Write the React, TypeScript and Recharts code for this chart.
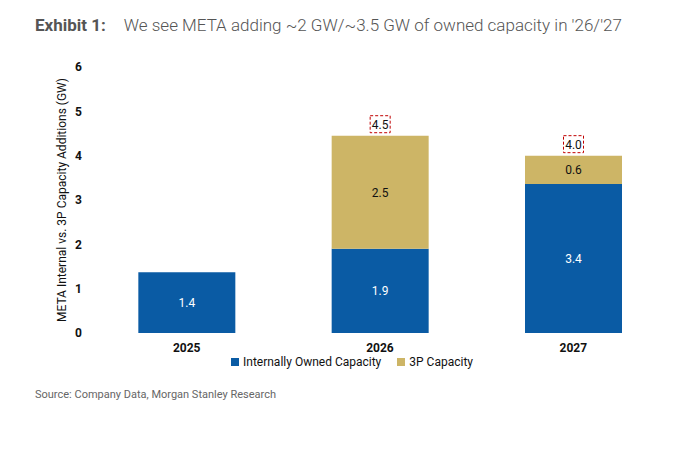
import { BarChart, Bar, XAxis, YAxis, LabelList } from "recharts"

const years = ["2025", "2026", "2027"]
const internal = [1.37, 1.9, 3.36]
const thirdParty = [0, 2.55, 0.64]
const internalLabels = ["1.4", "1.9", "3.4"]
const thirdLabels = ["", "2.5", "0.6"]
const totalLabels = ["1.4", "4.5", "4.0"]
const yTicks = [0, 1, 2, 3, 4, 5, 6]

const BLUE = "#0A5BA4"
const GOLD = "#CDB566"
const FONT = "'Liberation Sans Narrow', Roboto, sans-serif"

const data = years.map((y, i) => ({ year: y, internal: internal[i], third: thirdParty[i] }))

// eslint-disable-next-line @typescript-eslint/no-explicit-any
const TotalLabel = (props: any) => {
  const { x, y, width, value } = props
  const i = years.indexOf(String(value))
  const cx = x + width / 2
  const cy = y - 12
  return (
    <g>
      <rect x={cx - 10} y={cy - 8} width={20} height={17} fill="none" stroke="#C00000" strokeDasharray="3 2" />
      <text x={cx} y={cy + 5} textAnchor="middle" fontSize={12} fontFamily={FONT} fill="#111">
        {totalLabels[i]}
      </text>
    </g>
  )
}

export default function App() {
  return (
    <div style={{ position: "relative", width: 692, height: 449, margin: -8, background: "#fff", fontFamily: "Roboto, sans-serif" }}>
      <div style={{ position: "absolute", left: 35, top: 15, fontSize: 17, color: "#555", whiteSpace: "nowrap" }}>
        <span style={{ fontWeight: 700, marginRight: 18 }}>Exhibit 1:</span>
        <span style={{ fontWeight: 300 }}>We see META adding ~2 GW/~3.5 GW of owned capacity in '26/'27</span>
      </div>
      <BarChart width={692} height={449} data={data} margin={{ top: 67, right: 22, bottom: 96, left: 60 }} barCategoryGap="25%">
        <XAxis dataKey="year" height={20} axisLine={false} tickLine={false} tick={{ fill: "#111", fontSize: 12, fontFamily: FONT, fontWeight: 700 }} tickMargin={4} />
        <YAxis
          width={30}
          domain={[0, 6]}
          ticks={yTicks}
          axisLine={false}
          tickLine={false}
          tick={{ fill: "#111", fontSize: 12, fontFamily: FONT, fontWeight: 700 }}
          label={{ value: "META Internal vs. 3P Capacity Additions (GW)", angle: -90, position: "insideLeft", offset: 2, style: { textAnchor: "middle", fontSize: 12, fontFamily: FONT, fill: "#111" } }}
        />
        <Bar dataKey="internal" stackId="a" fill={BLUE} isAnimationActive={false}>
          <LabelList dataKey="year" position="center" fill="#fff" fontSize={12} fontFamily={FONT} formatter={(v: unknown) => internalLabels[years.indexOf(String(v))]} />
        </Bar>
        <Bar dataKey="third" stackId="a" fill={GOLD} isAnimationActive={false}>
          <LabelList dataKey="year" position="center" fill="#111" fontSize={12} fontFamily={FONT} formatter={(v: unknown) => thirdLabels[years.indexOf(String(v))]} />
          <LabelList dataKey="year" content={TotalLabel} />
        </Bar>
      </BarChart>
      <div style={{ position: "absolute", top: 355, left: 0, width: 692, display: "flex", justifyContent: "center", gap: 16, fontSize: 12, fontFamily: FONT, color: "#111", paddingLeft: 6 }}>
        <span><span style={{ display: "inline-block", width: 8, height: 8, background: BLUE, marginRight: 4 }} />Internally Owned Capacity</span>
        <span><span style={{ display: "inline-block", width: 8, height: 8, background: GOLD, marginRight: 4 }} />3P Capacity</span>
      </div>
      <div style={{ position: "absolute", top: 388, left: 35, fontSize: 11, color: "#666" }}>
        Source: Company Data, Morgan Stanley Research
      </div>
    </div>
  )
}
